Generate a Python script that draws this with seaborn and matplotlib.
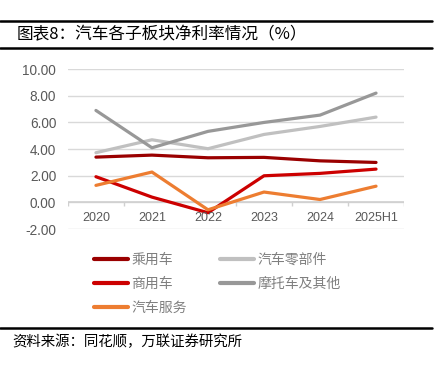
import numpy as np
import pandas as pd
import seaborn as sns
import matplotlib.pyplot as plt
from matplotlib.lines import Line2D

sns.set_style("white")
plt.rcParams['font.family'] = ['Noto Sans CJK SC', 'DejaVu Sans']

years = ['2020', '2021', '2022', '2023', '2024', '2025H1']
series_names = ['乘用车', '商用车', '汽车服务', '汽车零部件', '摩托车及其他']
passenger = [3.40, 3.55, 3.35, 3.38, 3.12, 3.00]
commercial = [1.93, 0.40, -0.77, 2.00, 2.18, 2.50]
service = [1.28, 2.28, -0.55, 0.78, 0.22, 1.22]
parts = [3.73, 4.70, 4.03, 5.10, 5.70, 6.40]
moto = [6.90, 4.10, 5.33, 6.00, 6.55, 8.20]
colors = ['#9A0000', '#CC0000', '#ED7D31', '#C0C0C0', '#989898']

df = pd.DataFrame({
    'year': years * 5,
    'x': list(range(len(years))) * 5,
    'series': np.repeat(series_names, len(years)),
    'value': passenger + commercial + service + parts + moto,
})

fig = plt.figure(figsize=(4.44, 3.66), dpi=100)
ax = fig.add_axes([0.153, 0.374, 0.757, 0.4372])

# gridlines
for v in np.arange(-2, 11, 2):
    ax.axhline(v, color='#D9D9D9', lw=1, zorder=0)
ax.axhline(0, color='#D0D0D0', lw=1.2, zorder=1)
ax.vlines(np.arange(-0.5, 6.0, 1), -0.25, 0, color='#D0D0D0', lw=1, zorder=1)

sns.lineplot(data=df, x='x', y='value', hue='series', hue_order=series_names,
             palette=colors, lw=2.3, ax=ax, legend=False, zorder=3)

ax.set_xlim(-0.5, 5.5)
ax.set_ylim(-2, 10)
ax.set_yticks(np.arange(-2, 11, 2))
ax.set_yticklabels([f'{v:.2f}' for v in np.arange(-2, 11, 2)],
                   color='#595959', fontsize=9.8, family='Liberation Sans')
ax.tick_params(axis='y', length=0, pad=8.5)
ax.set_xticks([])
for i, y in enumerate(years):
    ax.text(i, -1.2, y, ha='center', va='center', color='#595959',
            fontsize=9, family='Liberation Sans')
ax.set_xlabel('')
ax.set_ylabel('')
for s in ax.spines.values():
    s.set_visible(False)

handles = [Line2D([0], [0], color=c, lw=3, solid_capstyle='round') for c in colors]
fig.legend(handles, series_names,
           ncol=2, loc='upper left', bbox_to_anchor=(0.1835, 0.344),
           frameon=False, fontsize=10, handlelength=2.45, handletextpad=0.25,
           columnspacing=2.4, labelspacing=0.73, labelcolor='#7F7F7F')

# header / footer rules and text
for yy in [1 - 21 / 366, 1 - 48 / 366, 1 - 328 / 366]:
    fig.add_artist(Line2D([0, 432 / 444], [yy, yy], color='black', lw=1.8))
fig.text(17 / 444, 1 - 35 / 366, '图表8：汽车各子板块净利率情况（%）',
         fontsize=12, va='center', ha='left', color='black')
fig.text(12 / 444, 1 - 342 / 366, '资料来源：同花顺，万联证券研究所',
         fontsize=10.4, va='center', ha='left', color='black')

fig.savefig('out.png', dpi=100)
